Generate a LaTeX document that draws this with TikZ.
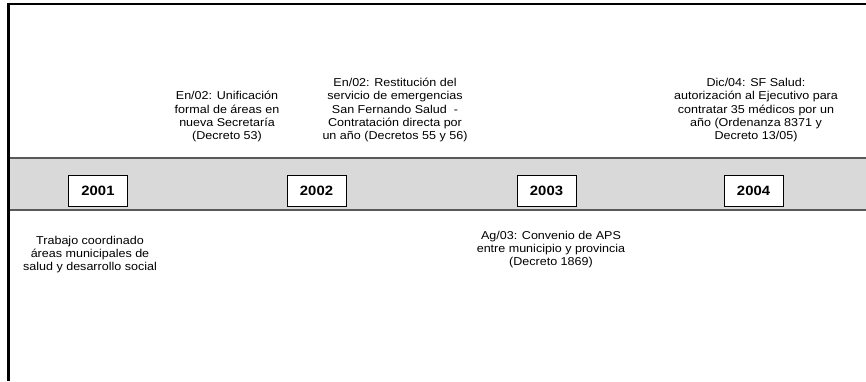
\documentclass[tikz,border=0pt]{standalone}
\usepackage{fontspec}
\setmainfont{Liberation Sans}[FakeStretch=1.1]
\definecolor{bandgray}{HTML}{D9D9D9}
\definecolor{bandline}{HTML}{595959}
\begin{document}
\begin{tikzpicture}[x=1pt,y=-1pt,
    yearbox/.style={draw=black, fill=white, line width=1pt, minimum width=59pt, minimum height=31pt,
        inner sep=0pt, font=\bfseries\fontsize{13.5}{15}\selectfont},
    eventtext/.style={align=center, inner sep=0pt, font=\fontsize{11.4}{13.2}\selectfont}]
    \useasboundingbox (0,0) rectangle (866,381);

    % frame (left and top edges only)
    \draw[line width=3pt] (8.5,381) -- (8.5,4);
    \draw[line width=2pt] (7,4) -- (866,4);

    % time band
    \fill[bandgray] (10,158) rectangle (866,210);
    \draw[bandline, line width=2pt] (10,158) -- (866,158);
    \draw[bandline, line width=2pt] (10,210) -- (866,210);

    \coordinate (Y1) at (98,190.5);
    \coordinate (Y2) at (316.5,190.5);
    \coordinate (Y3) at (546.5,190.5);
    \coordinate (Y4) at (753.5,190.5);

    \node[yearbox] (y2001) at (Y1) {2001};
    \node[yearbox] (y2002) at (Y2) {2002};
    \node[yearbox] (y2003) at (Y3) {2003};
    \node[yearbox] (y2004) at (Y4) {2004};

    % events above the band
    \node[eventtext, anchor=south] (unif) at (227,142)
        {En/02: Unificación\\formal de áreas en\\nueva Secretaría\\(Decreto 53)};
    \node[eventtext, anchor=south] (restit) at (395,142)
        {En/02: Restitución del\\servicio de emergencias\\San Fernando Salud \ -\\Contratación directa por\\un año (Decretos 55 y 56)};
    \node[eventtext, anchor=south] (sfsalud) at (756,142)
        {Dic/04: SF Salud:\\autorización al Ejecutivo para\\contratar 35 médicos por un\\año (Ordenanza 8371 y\\Decreto 13/05)};

    % events below the band
    \node[eventtext, anchor=north] (trabajo) at (90,236)
        {Trabajo coordinado\\áreas municipales de\\salud y desarrollo social};
    \node[eventtext, anchor=north] (aps) at (551,231)
        {Ag/03: Convenio de APS\\entre municipio y provincia\\(Decreto 1869)};
\end{tikzpicture}
\end{document}
